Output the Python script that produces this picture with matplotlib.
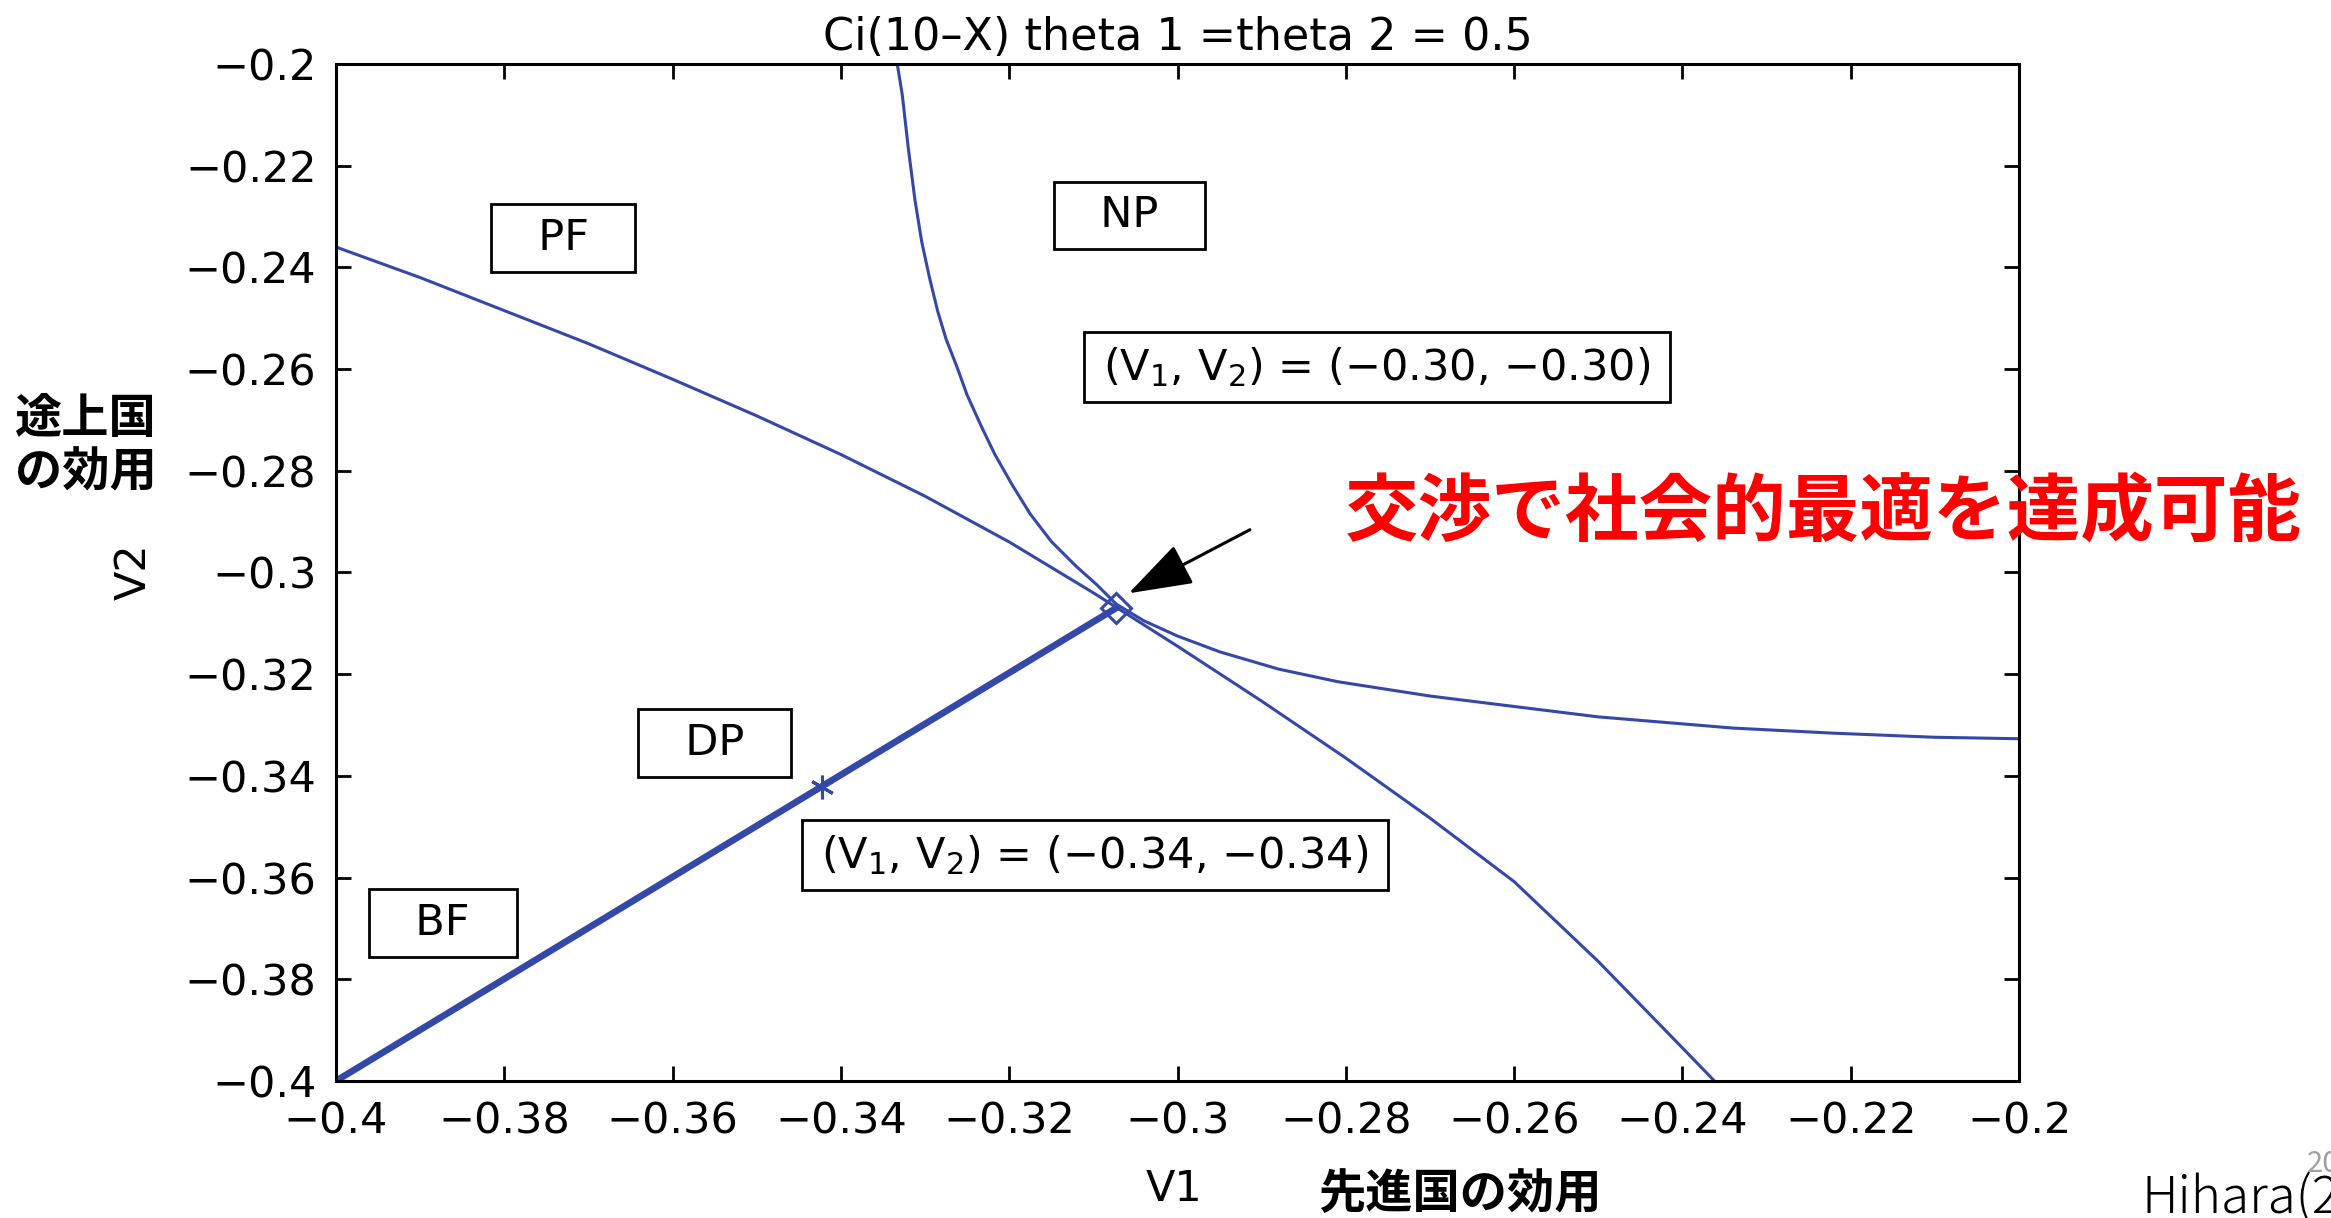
import matplotlib.pyplot as plt
from matplotlib.path import Path
from matplotlib.ticker import FuncFormatter

# --- data ---
pf_x = [-0.400, -0.390, -0.380, -0.370, -0.360, -0.350, -0.340, -0.330, -0.320,
        -0.310, -0.300, -0.290, -0.280, -0.270, -0.260, -0.250, -0.240, -0.2362]
pf_y = [-0.2360, -0.2420, -0.2485, -0.2550, -0.2620, -0.2692, -0.2768, -0.2850, -0.2940,
        -0.3040, -0.3145, -0.3253, -0.3365, -0.3483, -0.3608, -0.3765, -0.3935, -0.4000]

np_x = [-0.3333, -0.3327, -0.3320, -0.3312, -0.3304, -0.3295, -0.3285, -0.3275, -0.3262,
        -0.3250, -0.3233, -0.3217, -0.3196, -0.3175, -0.3150, -0.3121, -0.3096, -0.3073,
        -0.3040, -0.3000, -0.2950, -0.2880, -0.2809, -0.2700, -0.2632, -0.2500, -0.2340,
        -0.2221, -0.2102, -0.2000]
np_y = [-0.2000, -0.2061, -0.2164, -0.2267, -0.2349, -0.2418, -0.2486, -0.2541, -0.2596,
        -0.2651, -0.2713, -0.2768, -0.2829, -0.2885, -0.2939, -0.2987, -0.3024, -0.3062,
        -0.3095, -0.3125, -0.3156, -0.3190, -0.3215, -0.3243, -0.3257, -0.3284, -0.3306,
        -0.3316, -0.3324, -0.3327]

dp_x = [-0.400, -0.3073]
dp_y = [-0.400, -0.3070]

star_pt = (-0.3423, -0.3421)
diamond_pt = (-0.3073, -0.3070)
arrow_tail = (-0.2914, -0.2916)
arrow_tip = (-0.3058, -0.3041)

ticks = [-0.4, -0.38, -0.36, -0.34, -0.32, -0.3, -0.28, -0.26, -0.24, -0.22, -0.2]

boxes = [
    ("  PF  ", -0.3730, -0.2342),
    ("  NP  ", -0.3057, -0.2298),
    ("(V$_1$, V$_2$) = (\u22120.30, \u22120.30)", -0.2763, -0.2596),
    ("  DP  ", -0.3550, -0.3336),
    ("(V$_1$, V$_2$) = (\u22120.34, \u22120.34)", -0.3098, -0.3555),
    ("  BF  ", -0.3873, -0.3690),
]

blue = "#3448a8"

plt.rcParams['font.family'] = ['DejaVu Sans']
plt.rcParams['mathtext.fontset'] = 'dejavusans'

fig = plt.figure(figsize=(23.31, 12.18), dpi=100)
ax = fig.add_axes([0.1441, 0.1125, 0.7221, 0.835])


def wide_box(x0, y0, width, height, mutation_size):
    # wider horizontal than vertical padding, like the MATLAB text boxes
    px = 0.45 * mutation_size
    py = 0.30 * mutation_size
    x0, y0 = x0 - px, y0 - py
    x1, y1 = x0 + width + 2 * px, y0 + height + 2 * py
    return Path([(x0, y0), (x1, y0), (x1, y1), (x0, y1), (x0, y0)],
                [Path.MOVETO, Path.LINETO, Path.LINETO, Path.LINETO, Path.CLOSEPOLY])


ax.plot(pf_x, pf_y, color=blue, lw=2.2)
ax.plot(np_x, np_y, color=blue, lw=2.2)
ax.plot(dp_x, dp_y, color=blue, lw=4.8)
ax.plot(*star_pt, marker=(6, 2, 0), color=blue, ms=17, mew=2.2)
ax.plot(*diamond_pt, marker='D', mfc='none', mec=blue, ms=15, mew=2.2)

ax.annotate('', xy=arrow_tip, xytext=arrow_tail,
            arrowprops=dict(arrowstyle='-|>,head_length=4.0,head_width=1.35',
                            color='black', lw=2.2, mutation_scale=10,
                            shrinkA=0, shrinkB=0))

for label, bx, by in boxes:
    ax.text(bx, by, label, fontsize=31, ha='center', va='center',
            bbox=dict(boxstyle=wide_box, fc='white', ec='black', lw=2))

ax.set_xlim(-0.4, -0.2)
ax.set_ylim(-0.4, -0.2)
ax.set_xticks(ticks)
ax.set_yticks(ticks)
fmt = FuncFormatter(lambda v, p: ('%g' % v).replace('-', '\u2212'))
ax.xaxis.set_major_formatter(fmt)
ax.yaxis.set_major_formatter(fmt)
ax.tick_params(direction='in', length=11, width=2, labelsize=31, pad=14,
               top=True, right=True)
for s in ax.spines.values():
    s.set_linewidth(2.2)

ax.set_title("Ci(10\u2013X) theta 1 =theta 2 = 0.5", fontsize=32, pad=10)

fig.text(0.5037, 0.0238, "V1", fontsize=31, ha='center', va='center')
fig.text(0.0575, 0.5304, "V2", fontsize=31, ha='center', va='center', rotation=90)

jp = ['Noto Sans CJK JP', 'DejaVu Sans']
fig.text(0.0369, 0.6338, "途上国\nの効用", fontsize=34, fontweight='bold',
         family=jp, ha='center', va='center', multialignment='center', linespacing=1.15)
fig.text(0.6263, 0.0197, "先進国の効用", fontsize=34, fontweight='bold',
         family=jp, ha='center', va='center')
fig.text(0.7821, 0.5788, "交渉で社会的最適を達成可能", fontsize=53, fontweight='bold',
         color='#ff0000', family=jp, ha='center', va='center')

# slide footer, cut at the right edge as in the reference
fig.text(0.9185, 0.0041, "Hihara(2020)", fontsize=37, family=jp,
         fontweight='light', ha='left', va='baseline')
fig.text(0.9897, 0.0378, "20", fontsize=21, family=jp, color='#a0a0a0',
         ha='left', va='baseline')

fig.savefig("out.png", dpi=100)
